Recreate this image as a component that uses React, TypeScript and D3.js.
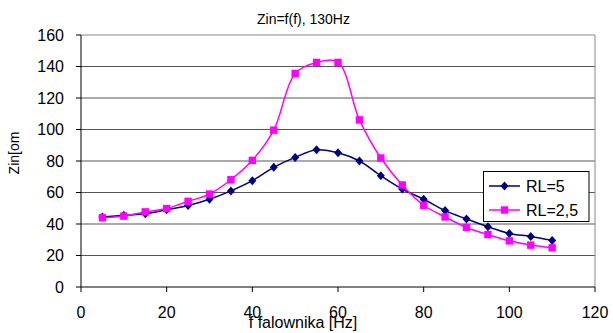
import React from "react";
import * as d3 from "d3";

const freq = [5, 10, 15, 20, 25, 30, 35, 40, 45, 50, 55, 60, 65, 70, 75, 80, 85, 90, 95, 100, 105, 110];
const rl5 = [44.5, 45.5, 46.5, 49, 51.7, 55.7, 61, 67.5, 76, 82.3, 87.1, 85.2, 80, 70.7, 62.2, 55.7, 48.5, 43.2, 38.2, 34, 32.1, 29.6];
const rl25 = [44, 45, 47.7, 49.8, 54.4, 59, 68.1, 80.4, 99.6, 135.6, 142.6, 142.6, 106.1, 81.9, 64.8, 51.9, 44.5, 37.8, 33.3, 29.3, 26.6, 24.9];
const xTicks = [0, 20, 40, 60, 80, 100, 120];
const yTicks = [0, 20, 40, 60, 80, 100, 120, 140, 160];
const seriesNames = ["RL=5", "RL=2,5"];
const title = "Zin=f(f), 130Hz";
const xTitle = "f falownika [Hz]";
const yTitle = "Zin[om";

const W = 613, H = 333;
const L = 81, R = 595, T = 35, B = 287;
const FONT = "'Liberation Sans', Arial, sans-serif";

export default function App() {
  const x = d3.scaleLinear().domain([0, 120]).range([L, R]);
  const y = d3.scaleLinear().domain([0, 160]).range([B, T]);
  const line = d3
    .line<number>()
    .x((_, i) => x(freq[i]))
    .y((d) => y(d))
    .curve(d3.curveCatmullRom.alpha(0.5));

  const diamond = (cx: number, cy: number, key: string | number) => (
    <path key={key} d={`M${cx},${cy - 4.5}L${cx + 4},${cy}L${cx},${cy + 4.5}L${cx - 4},${cy}Z`} fill="#000080" />
  );
  const square = (cx: number, cy: number, key: string | number) => (
    <rect key={key} x={cx - 3.7} y={cy - 3.7} width={7.4} height={7.4} fill="#FF00FF" />
  );

  return (
    <svg width={W} height={H} style={{ position: "absolute", left: 0, top: 0, background: "#fff" }} fontFamily={FONT}>
      <rect x={0} y={0} width={W} height={H} fill="#fff" />
      {/* gridlines */}
      {yTicks.filter((t) => t > 0 && t < 160).map((t) => (
        <line key={t} x1={L} x2={R} y1={y(t)} y2={y(t)} stroke="#555" strokeWidth={1} />
      ))}
      {/* plot border */}
      <line x1={L} x2={R} y1={T} y2={T} stroke="#888" strokeWidth={1} />
      <line x1={R} x2={R} y1={T} y2={B} stroke="#888" strokeWidth={1} />
      {/* axes */}
      <line x1={L} x2={L} y1={T} y2={B} stroke="#000" strokeWidth={1} />
      <line x1={L} x2={R} y1={B} y2={B} stroke="#000" strokeWidth={1} />
      {yTicks.map((t) => (
        <g key={t}>
          <line x1={L - 5} x2={L} y1={y(t)} y2={y(t)} stroke="#000" />
          <text x={64} y={y(t)} dy="0.36em" textAnchor="end" fontSize={16} fill="#000">{t}</text>
        </g>
      ))}
      {xTicks.map((t) => (
        <g key={t}>
          <line x1={x(t)} x2={x(t)} y1={B} y2={B + 5} stroke="#000" />
          <text x={x(t)} y={318} textAnchor="middle" fontSize={16} fill="#000">{t}</text>
        </g>
      ))}
      {/* series */}
      <path d={line(rl5) || ""} fill="none" stroke="#000080" strokeWidth={1.5} />
      {rl5.map((v, i) => diamond(x(freq[i]), y(v), "d" + i))}
      <path d={line(rl25) || ""} fill="none" stroke="#FF00FF" strokeWidth={1.5} />
      {rl25.map((v, i) => square(x(freq[i]), y(v), "s" + i))}
      {/* titles */}
      <text x={303.5} y={24} textAnchor="middle" fontSize={14} fill="#000">{title}</text>
      <text x={303} y={328} textAnchor="middle" fontSize={16} fill="#000">{xTitle}</text>
      <text transform="translate(18.5,153) rotate(-90)" textAnchor="middle" fontSize={14} fill="#000">{yTitle}</text>
      {/* legend */}
      <rect x={483.5} y={171.5} width={105.5} height={50} fill="#fff" stroke="#000" strokeWidth={1} />
      <line x1={489} x2={520} y1={186} y2={186} stroke="#000080" strokeWidth={1.5} />
      {diamond(504.5, 186, "ld")}
      <text x={526} y={186} dy="0.36em" fontSize={16} fill="#000">{seriesNames[0]}</text>
      <line x1={489} x2={520} y1={210} y2={210} stroke="#FF00FF" strokeWidth={1.5} />
      {square(504.5, 210, "ls")}
      <text x={526} y={210} dy="0.36em" fontSize={16} fill="#000">{seriesNames[1]}</text>
    </svg>
  );
}
